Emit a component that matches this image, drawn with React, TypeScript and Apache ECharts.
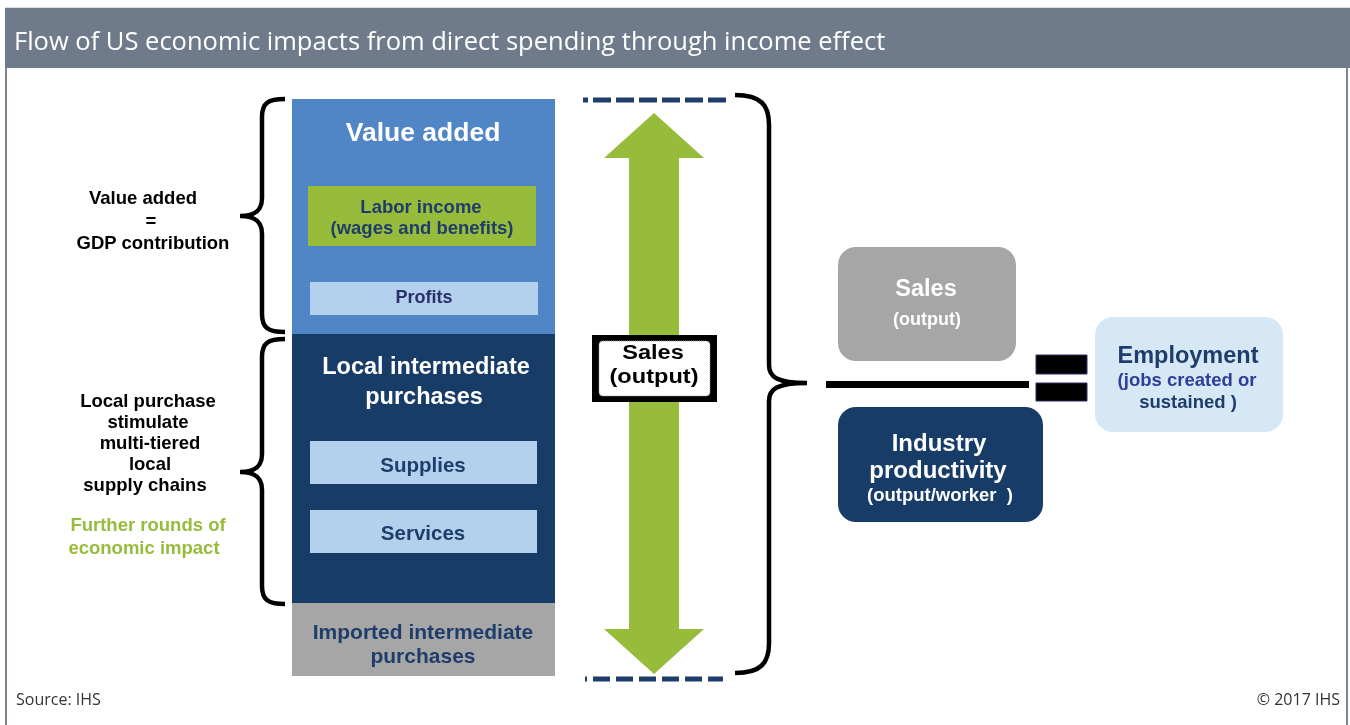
import React, { useEffect, useRef } from "react";
import * as echarts from "echarts";

const TITLE = "Flow of US economic impacts from direct spending through income effect";
const SOURCE = "Source: IHS";
const COPYRIGHT = "© 2017 IHS";
const VALUE_ADDED_NOTE = ["Value added", "=", "GDP contribution"];
const LOCAL_NOTE = ["Local purchase", "stimulate", "multi-tiered", "local", "supply chains"];
const FURTHER_NOTE = ["Further rounds of", "economic impact"];
const STACK_LABELS = ["Value added", "Local intermediate", "purchases", "Imported intermediate", "purchases"];
const INNER_LABELS = ["Labor income", "(wages and benefits)", "Profits", "Supplies", "Services"];
const ARROW_LABEL = ["Sales", "(output)"];
const RIGHT_LABELS = ["Sales", "(output)", "Industry", "productivity", "(output/worker  )", "Employment", "(jobs created or", "sustained )"];

const BLUE = "#5085c6";
const NAVY = "#183c68";
const GREY = "#a6a6a6";
const GREEN = "#97bc3c";
const PALE = "#b3d0ec";
const TXT_NAVY = "#1f3d6a";
const ARIAL = "'Liberation Sans', Arial, sans-serif";
const SANS = "'Open Sans', 'Noto Sans', sans-serif";

function txt(text: string, x: number, y: number, size: number, fill: string, bold = true, family = ARIAL, align = "center", scaleX = 1) {
  return {
    type: "text",
    x,
    y,
    scaleX,
    style: {
      text,
      fill,
      font: `${bold ? "bold " : ""}${size}px ${family}`,
      textAlign: align,
      textVerticalAlign: "middle",
    },
  };
}

function rect(x0: number, y0: number, x1: number, y1: number, fill: string, r = 0, extra: any = {}) {
  return {
    type: "rect",
    shape: { x: x0, y: y0, width: x1 - x0, height: y1 - y0, r },
    style: { fill, ...extra },
  };
}

function leftBrace(xr: number, xs: number, xt: number, y0: number, yt: number, y1: number) {
  return `M ${xr} ${y0} C ${xs + 6} ${y0} ${xs} ${y0 + 4} ${xs} ${y0 + 18} L ${xs} ${yt - 18} C ${xs} ${yt - 6} ${xs - 6} ${yt} ${xt} ${yt} C ${xs - 6} ${yt} ${xs} ${yt + 6} ${xs} ${yt + 18} L ${xs} ${y1 - 18} C ${xs} ${y1 - 4} ${xs + 6} ${y1} ${xr} ${y1}`;
}

function rightBrace(xl: number, xs: number, xt: number, y0: number, yt: number, y1: number) {
  return `M ${xl} ${y0} C ${xs - 8} ${y0} ${xs} ${y0 + 10} ${xs} ${y0 + 30} L ${xs} ${yt - 18} C ${xs} ${yt - 6} ${xs + 8} ${yt} ${xt} ${yt} C ${xs + 8} ${yt} ${xs} ${yt + 6} ${xs} ${yt + 18} L ${xs} ${y1 - 30} C ${xs} ${y1 - 10} ${xs - 8} ${y1} ${xl} ${y1}`;
}

export default function App() {
  const ref = useRef<HTMLDivElement>(null);
  useEffect(() => {
    if (!ref.current) return;
    echarts.graphic.registerShape("braceA", echarts.graphic.extendPath(leftBrace(285, 262, 240, 99, 216, 332), {}) as any);
    echarts.graphic.registerShape("braceB", echarts.graphic.extendPath(leftBrace(285, 262, 240, 339, 472, 604), {}) as any);
    echarts.graphic.registerShape("braceC", echarts.graphic.extendPath(rightBrace(735, 769, 807, 95, 383, 673), {}) as any);
    const chart = echarts.init(ref.current, undefined, { renderer: "svg" });

    const braceStyle = { stroke: "#000", lineWidth: 4.5, fill: "none" };
    const dash = { stroke: TXT_NAVY, lineWidth: 5 };
    const els: any[] = [
      rect(0, 0, 1350, 725, "#ffffff"),
      // frame
      rect(5, 7, 1350, 8, "#d9dde2"),
      rect(5, 8, 1350, 68, "#6f7b8a"),
      rect(5, 68, 7, 725, "#7c8794"),
      rect(1346, 68, 1348, 725, "#7c8794"),
      txt(TITLE, 14, 40, 25.5, "#ffffff", false, SANS, "left"),
      // stack
      rect(292, 99, 555, 334, BLUE),
      rect(292, 334, 555, 603, NAVY),
      rect(292, 603, 555, 676, GREY),
      rect(308, 186, 536, 246, GREEN),
      rect(310, 282, 538, 315, PALE),
      rect(310, 441, 537, 484, PALE),
      rect(310, 510, 537, 553, PALE),
      txt(STACK_LABELS[0], 423, 132, 26.5, "#ffffff"),
      txt(STACK_LABELS[1], 426, 366, 23.5, "#ffffff"),
      txt(STACK_LABELS[2], 424, 396, 23.5, "#ffffff"),
      txt(STACK_LABELS[3], 423, 631, 21, TXT_NAVY),
      txt(STACK_LABELS[4], 423, 655, 21, TXT_NAVY),
      txt(INNER_LABELS[0], 421, 206, 18.5, TXT_NAVY),
      txt(INNER_LABELS[1], 422, 227, 18.5, TXT_NAVY),
      txt(INNER_LABELS[2], 424, 297, 18, "#2b2f6b"),
      txt(INNER_LABELS[3], 423, 464, 20.5, TXT_NAVY),
      txt(INNER_LABELS[4], 423, 532, 20.5, TXT_NAVY),
      // braces
      { type: "braceA", x: 0, y: 0, style: braceStyle },
      { type: "braceB", x: 0, y: 0, style: braceStyle },
      { type: "braceC", x: 0, y: 0, style: braceStyle },
      // left notes
      txt(VALUE_ADDED_NOTE[0], 143, 197, 18.5, "#000"),
      txt(VALUE_ADDED_NOTE[1], 151, 220, 18.5, "#000"),
      txt(VALUE_ADDED_NOTE[2], 153, 242, 18.5, "#000"),
      ...LOCAL_NOTE.map((t, i) => txt(t, [148, 148, 150, 150, 145][i], 400 + i * 21, 18.5, "#000")),
      txt(FURTHER_NOTE[0], 148, 524, 18.5, GREEN),
      txt(FURTHER_NOTE[1], 144, 547, 18.5, GREEN),
      // arrow
      {
        type: "polygon",
        shape: {
          points: [
            [654, 113], [704, 158], [679, 158], [679, 629], [704, 629], [654, 674],
            [604, 629], [629, 629], [629, 158], [604, 158],
          ],
        },
        style: { fill: GREEN },
      },
      // dashed lines
      { type: "line", shape: { x1: 583, y1: 100, x2: 588, y2: 100 }, style: dash },
      { type: "line", shape: { x1: 593, y1: 100, x2: 726, y2: 100 }, style: { ...dash, lineDash: [18, 5] } },
      { type: "line", shape: { x1: 585, y1: 679, x2: 587, y2: 679 }, style: dash },
      { type: "line", shape: { x1: 593, y1: 679, x2: 723, y2: 679 }, style: { ...dash, lineDash: [17, 6] } },
      // sales box on arrow
      rect(592, 335, 717, 402, "#000"),
      rect(599, 341, 710, 396, "#ffffff", 4, { stroke: "#999", lineWidth: 1, lineDash: [1, 1] }),
      txt(ARROW_LABEL[0], 653, 352, 20.5, "#000", true, ARIAL, "center", 1.15),
      txt(ARROW_LABEL[1], 654, 376, 20.5, "#000", true, ARIAL, "center", 1.15),
      // right side
      rect(838, 247, 1016, 361, GREY, 18),
      txt(RIGHT_LABELS[0], 926, 288, 23.5, "#ffffff"),
      txt(RIGHT_LABELS[1], 927, 319, 18, "#ffffff"),
      rect(826, 381, 1029, 388, "#000"),
      rect(1036, 355, 1087, 374, "#000", 0, { stroke: "#2b2f6b", lineWidth: 1 }),
      rect(1036, 383, 1087, 401, "#000", 0, { stroke: "#2b2f6b", lineWidth: 1 }),
      rect(838, 407, 1043, 522, NAVY, 18),
      txt(RIGHT_LABELS[2], 939, 442, 24, "#ffffff"),
      txt(RIGHT_LABELS[3], 938, 469, 24, "#ffffff"),
      txt(RIGHT_LABELS[4], 940, 494, 18.5, "#ffffff"),
      rect(1095, 317, 1283, 432, "#d6e7f6", 18),
      txt(RIGHT_LABELS[5], 1188, 355, 23.5, TXT_NAVY),
      txt(RIGHT_LABELS[6], 1187, 379, 18.5, "#2e3f9a"),
      txt(RIGHT_LABELS[7], 1188, 401, 18.5, TXT_NAVY),
      // footer
      txt(SOURCE, 16, 699, 16, "#333", false, SANS, "left"),
      txt(COPYRIGHT, 1340, 699, 16, "#333", false, SANS, "right"),
    ];

    chart.setOption({ animation: false, graphic: { elements: els } });
    return () => chart.dispose();
  }, []);
  return <div ref={ref} style={{ position: "fixed", left: 0, top: 0, width: 1350, height: 725 }} />;
}
